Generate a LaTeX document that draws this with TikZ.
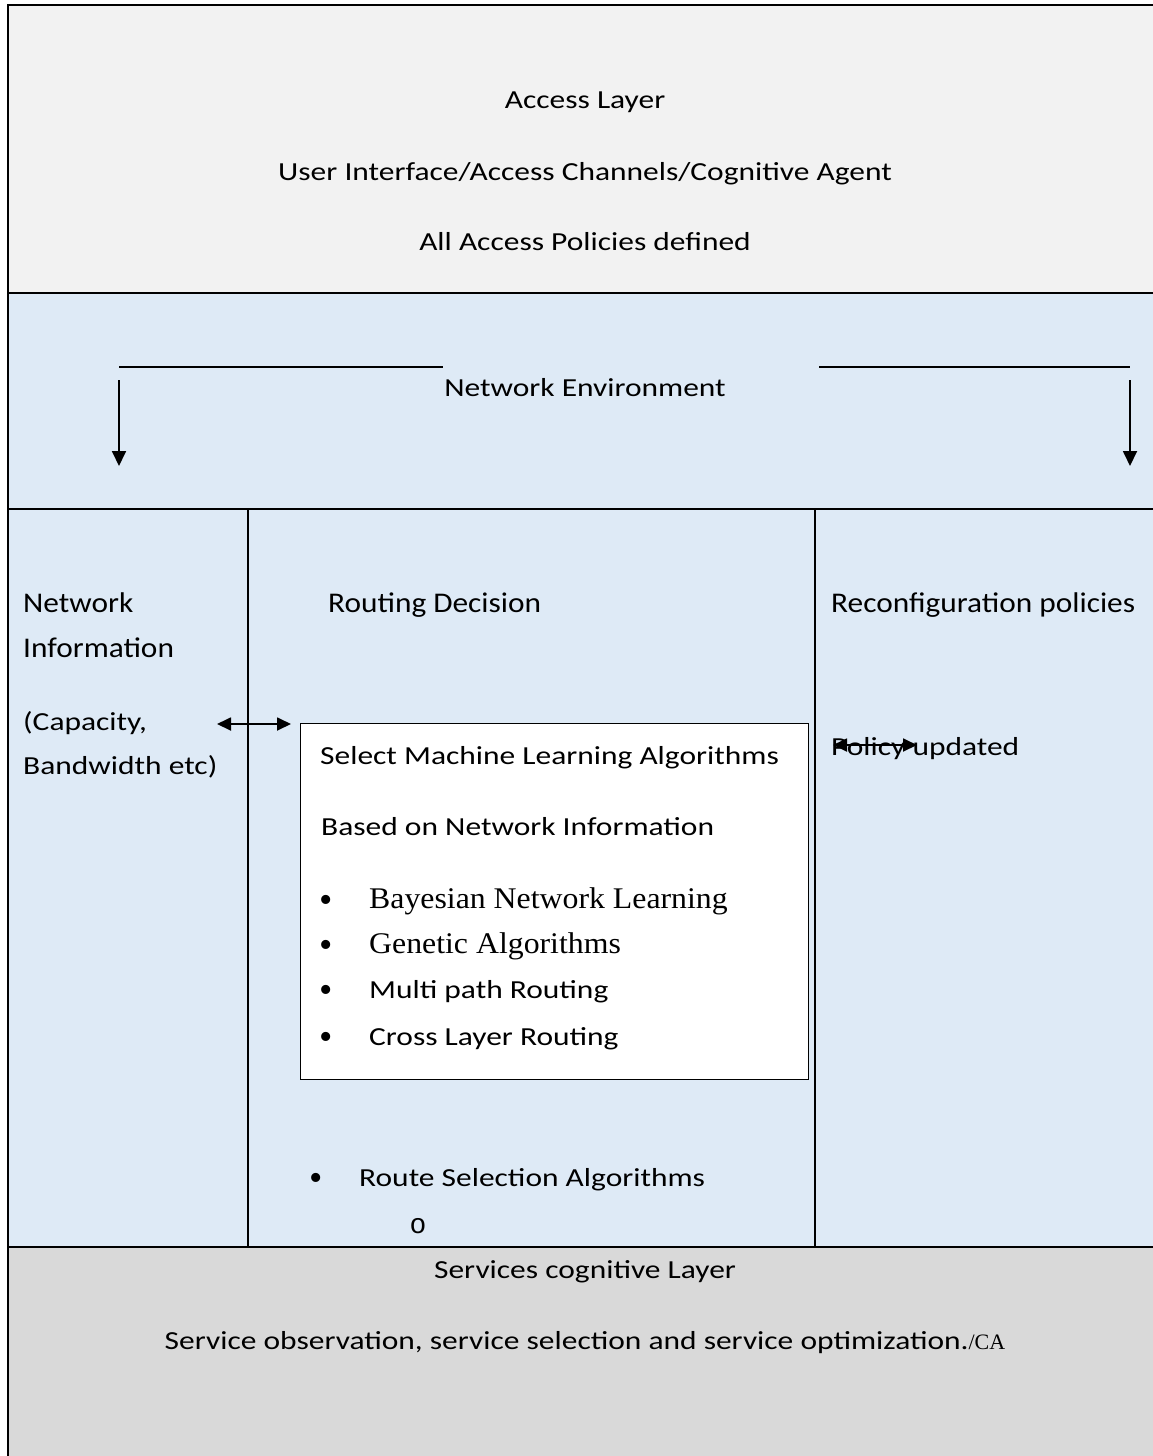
\documentclass[tikz,border=0pt]{standalone}
\usepackage{fontspec}
\setmainfont{Carlito}[FakeStretch=1.21]
\newfontfamily\headf{Carlito}[FakeStretch=1.1]
\newfontfamily\tnr{Liberation Serif}[FakeStretch=1.06]
\newfontfamily\plainserif{Liberation Serif}
\newfontfamily\monof{Liberation Mono}
\usetikzlibrary{arrows.meta}
\definecolor{topgray}{HTML}{F2F2F2}
\definecolor{paleblue}{HTML}{DEEAF6}
\definecolor{botgray}{HTML}{D9D9D9}
\begin{document}
\begin{tikzpicture}[x=1pt,y=-1pt,
  txt/.style={inner sep=0pt, anchor=base, font=\fontsize{26}{30}\selectfont},
  txtl/.style={txt, anchor=base west},
  head/.style={inner sep=0pt, anchor=base west, font=\headf\fontsize{28.5}{32}\selectfont},
  serif/.style={inner sep=0pt, anchor=base west, font=\tnr\fontsize{30}{34}\selectfont},
  bul/.style={inner sep=0pt, anchor=base, font=\plainserif\fontsize{38}{40}\selectfont},
  rule/.style={line width=1.5pt},
  thick rule/.style={line width=2.3pt},
  arr/.style={line width=1.8pt, -{Triangle[length=15pt,width=14pt]}},
  darr/.style={line width=1.8pt, {Triangle[length=14pt,width=13pt]}-{Triangle[length=14pt,width=13pt]}}]
\useasboundingbox (0,0) rectangle (1153,1456);
% backgrounds
\fill[topgray] (8,5) rectangle (1153,293);
\fill[paleblue] (8,293) rectangle (1153,1247);
\fill[botgray] (8,1247) rectangle (1153,1456);
% frame lines
\draw[thick rule] (8,1456) -- (8,5) -- (1153,5);
\draw[rule] (8,293) -- (1153,293);
\draw[thick rule] (8,509) -- (1153,509);
\draw[rule] (248,509) -- (248,1247);
\draw[rule] (815,509) -- (815,1247);
\draw[rule] (8,1247) -- (1153,1247);

% access layer
\node[txt] (acc) at (585,108) {Access Layer};
\node[txt] (ui) at (585,180) {User Interface/Access Channels/Cognitive Agent};
\node[txt] (pol) at (585,250) {All Access Policies defined};

% network environment
\node[txt] (env) at (585,396) {Network Environment};
\coordinate (l1) at (119,367); \coordinate (l2) at (443,367);
\coordinate (r1) at (819,367); \coordinate (r2) at (1130,367);
\draw[line width=1.8pt] (l1) -- (l2);
\draw[line width=1.8pt] (r1) -- (r2);
\coordinate (la) at (119,380); \coordinate (lb) at (119,466);
\coordinate (ra) at (1130,380); \coordinate (rb) at (1130,466);
\draw[arr] (la) -- (lb);
\draw[arr] (ra) -- (rb);

% columns
\node[head] (ni1) at (23,612) {Network};
\node[head] (ni2) at (23,657) {Information};
\node[txtl] (cap1) at (23,730) {(Capacity,};
\node[txtl] (cap2) at (23,774) {Bandwidth etc)};
\node[head] (rd) at (328,612) {Routing Decision};
\node[head] (rp) at (831,612) {Reconfiguration policies};
\node[txtl] (pu) at (831,755) {Policy updated};

% ML box
\node[draw, fill=white, line width=1.3pt, minimum width=508pt, minimum height=356pt, anchor=north west, inner sep=0pt] (mlbox) at (300,723) {};
\node[txtl] (sel) at (320,764) {Select Machine Learning Algorithms};
\node[txtl] (based) at (321,835) {Based on Network Information};
\node[bul] (b1) at (326,912) {•};
\node[serif] (bay) at (369,908) {Bayesian Network Learning};
\node[bul] (b2) at (326,957) {•};
\node[serif] (gen) at (369,953) {Genetic Algorithms};
\node[bul] (b3) at (326,1002) {•};
\node[txtl] (mp) at (369,998) {Multi path Routing};
\node[bul] (b4) at (326,1049) {•};
\node[txtl] (cl) at (369,1045) {Cross Layer Routing};

% route selection
\node[bul] (b5) at (316,1190) {•};
\node[txtl] (rs) at (359,1186) {Route Selection Algorithms};
\node[inner sep=0pt, anchor=base, font=\monof\fontsize{28}{30}\selectfont] (sub) at (418,1233) {o};

% arrows
\coordinate (da) at (217,724); \coordinate (db) at (291,724);
\draw[darr] (da) -- (db);
\coordinate (pa) at (833,745); \coordinate (pb) at (917,745);
\draw[darr] (pa) -- (pb);

% services layer
\node[txt] (svc) at (585,1278) {Services cognitive Layer};
\node[txt] (obs) at (585,1349) {Service observation, service selection and service optimization.{\plainserif\fontsize{22}{26}\selectfont/CA}};
\end{tikzpicture}
\end{document}
